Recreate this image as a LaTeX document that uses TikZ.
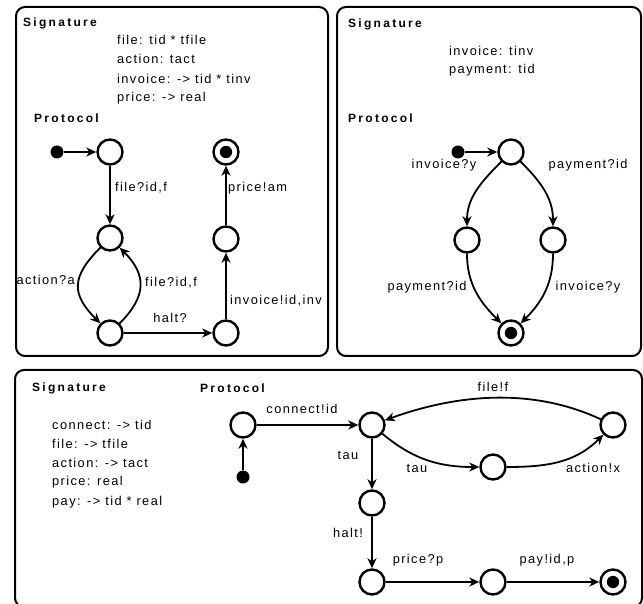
\documentclass[tikz,border=0pt]{standalone}
\usepackage{fontspec}
\setmainfont{Liberation Sans}
\newfontfamily\labfont[LetterSpace=11]{Liberation Sans}
\newfontfamily\headfont[LetterSpace=19]{Liberation Sans Bold}
\usepackage{tikz}
\usetikzlibrary{arrows.meta}
\tikzset{
  panel/.style={draw, line width=2pt, rounded corners=9pt},
  state/.style={circle, draw, line width=2.4pt, minimum size=25pt, inner sep=0pt},
  final/.style={state, path picture={\fill (path picture bounding box.center) circle (6.2pt);}},
  init/.style={circle, fill, minimum size=13pt, inner sep=0pt},
  tr/.style={-{Stealth[length=10pt, width=9pt, inset=3pt]}, line width=1.8pt},
  head/.style={anchor=west, inner sep=0pt, font=\headfont\fontsize{12}{14}\selectfont},
  lab/.style={inner sep=0pt, font=\labfont\fontsize{12.8}{15}\selectfont},
  sig/.style={lab, anchor=west}
}
\begin{document}
\begin{tikzpicture}[x=1pt, y=1pt]
  \useasboundingbox (0,0) rectangle (643,603);
  % frames
  \draw[panel] (16,247) rectangle (328,596);
  \draw[panel] (337,247) rectangle (641,596);
  \draw[panel] (15,-4) rectangle (642,233);

  % ---- first component
  \node[head] (sigA) at (23,580) {Signature};
  \foreach \t [count=\i] in {file: tid * tfile, action: tact, invoice: -> tid * tinv, price: -> real}
    \node[sig] (sigA\i) at (117,582.3-19.3*\i) {\t};
  \node[head] (protA) at (34,485) {Protocol};

  \node[init] (i1) at (57,451) {};
  \node[state] (a1) at (110,451) {};
  \node[final] (f1) at (226,451) {};
  \node[state] (b1) at (110,365) {};
  \node[state] (c1) at (110,270) {};
  \node[state] (d1) at (226,270) {};
  \node[state] (e1) at (226,364) {};

  \draw[tr] (i1) -- (a1);
  \draw[tr] (a1) -- (b1);
  \draw[tr] (b1) to[out=225, in=135, looseness=1.4] (c1);
  \draw[tr] (c1) to[out=45, in=-45, looseness=1.3] (b1);
  \draw[tr] (c1) -- (d1);
  \draw[tr] (d1) -- (e1);
  \draw[tr] (e1) -- (f1);

  \node[lab, anchor=west] (lA1) at (115,415) {file?id,f};
  \node[lab, anchor=west] (lA2) at (228,415) {price!am};
  \node[lab, anchor=east] (lA3) at (75,323) {action?a};
  \node[lab, anchor=west] (lA4) at (145,320) {file?id,f};
  \node[lab] (lA5) at (170,285) {halt?};
  \node[lab, anchor=west] (lA6) at (230,302) {invoice!id,inv};

  % ---- second component
  \node[head] (sigB) at (348,579) {Signature};
  \node[sig] (sigB1) at (449,552) {invoice: tinv};
  \node[sig] (sigB2) at (449,533) {payment: tid};
  \node[head] (protB) at (348,485) {Protocol};

  \node[init] (i2) at (458,451) {};
  \node[state] (s0) at (511,451) {};
  \node[state] (s1) at (467,363) {};
  \node[state] (s2) at (553,363) {};
  \node[final] (f2) at (511,270) {};

  \draw[tr] (i2) -- (s0);
  \draw[tr] (s0) to[out=-135, in=90] (s1);
  \draw[tr] (s0) to[out=-45, in=90] (s2);
  \draw[tr] (s1) to[out=-90, in=135] (f2);
  \draw[tr] (s2) to[out=-90, in=45] (f2);

  \node[lab] (lB1) at (444,437.5) {invoice?y};
  \node[lab] (lB2) at (588,438) {payment?id};
  \node[lab] (lB3) at (427,316) {payment?id};
  \node[lab] (lB4) at (588,316) {invoice?y};

  % ---- composition
  \node[head] (sigC) at (32,215) {Signature};
  \node[head] (protC) at (200,215) {Protocol};
  \foreach \t [count=\i] in {connect: -> tid, file: -> tfile, action: -> tact, price: real, pay: -> tid * real}
    \node[sig] (sigC\i) at (52,197.2-19.2*\i) {\t};

  \node[init] (i3) at (243,126) {};
  \node[state] (p0) at (243,178) {};
  \node[state] (p1) at (372,178) {};
  \node[state] (p2) at (493,136) {};
  \node[state] (p3) at (613,178) {};
  \node[state] (p4) at (372,100) {};
  \node[state] (p5) at (372,21) {};
  \node[state] (p6) at (493,21) {};
  \node[final] (f3) at (613,21) {};

  \draw[tr] (i3) -- (p0);
  \draw[tr] (p0) -- (p1);
  \draw[tr] (p1) to[out=-40, in=180] (p2);
  \draw[tr] (p2) to[out=0, in=-135] (p3);
  \draw[tr] (p3) to[out=155, in=20, looseness=0.9] (p1);
  \draw[tr] (p1) -- (p4);
  \draw[tr] (p4) -- (p5);
  \draw[tr] (p5) -- (p6);
  \draw[tr] (p6) -- (f3);

  \node[lab] (lC1) at (302,194) {connect!id};
  \node[lab] (lC2) at (493,216) {file!f};
  \node[lab] (lC3) at (417,135) {tau};
  \node[lab] (lC4) at (593,135) {action!x};
  \node[lab] (lC5) at (348,148) {tau};
  \node[lab] (lC6) at (348,70) {halt!};
  \node[lab] (lC7) at (418,43) {price?p};
  \node[lab] (lC8) at (547,43) {pay!id,p};
\end{tikzpicture}
\end{document}
